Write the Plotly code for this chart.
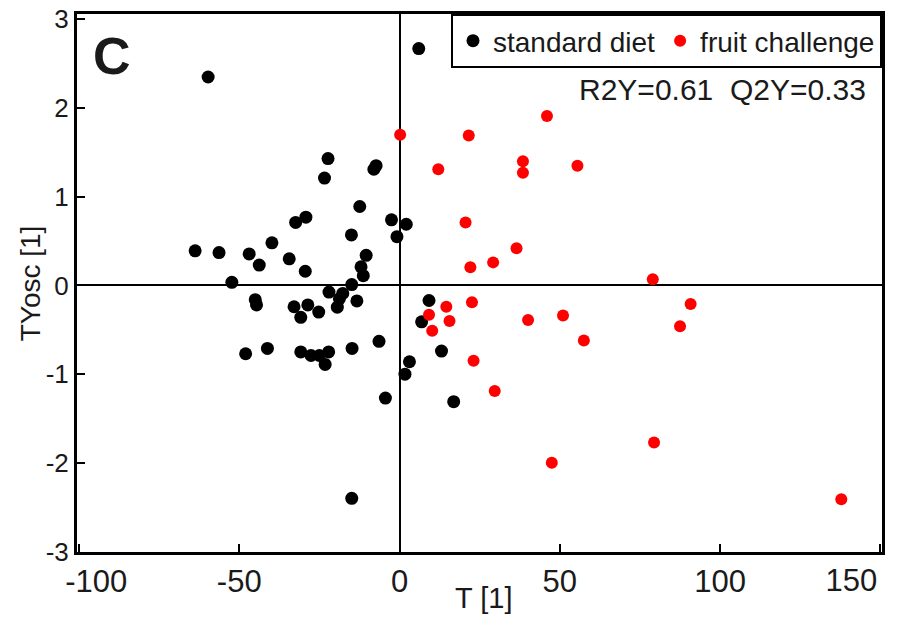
import plotly.graph_objects as go

# ---- data ----
std_t = [6.0, -59.7, -22.3, -23.4, -8.0, -7.3, -12.4, -29.2, -32.4, -15.0, -2.5, 2.1, -0.8,
         -63.75, -56.3, -46.9, -43.75, -39.8, -34.4, -29.4, -10.4, -12.0, -11.3, -52.3, -14.9,
         -22.0, -17.7, -18.75, -19.4, -13.3, -45.0, -44.6, -32.9, -28.6, -30.8, -25.2,
         -6.4, -14.8, -48.0, -41.2, -30.8, -27.6, -25.0, -22.1, -23.2, -4.4, -14.9,
         3.1, 1.7, 9.2, 6.9, 13.1, 16.9]
std_tyosc = [2.67, 2.35, 1.43, 1.21, 1.31, 1.35, 0.89, 0.77, 0.71, 0.57, 0.74, 0.69, 0.55,
             0.39, 0.37, 0.355, 0.23, 0.48, 0.30, 0.16, 0.34, 0.21, 0.11, 0.035, 0.01,
             -0.075, -0.09, -0.15, -0.245, -0.175, -0.16, -0.22, -0.24, -0.22, -0.36, -0.30,
             -0.63, -0.71, -0.77, -0.71, -0.75, -0.79, -0.79, -0.75, -0.89, -1.27, -2.40,
             -0.86, -1.0, -0.17, -0.41, -0.74, -1.31]

fruit_t = [0.2, 21.6, 46.0, 12.1, 38.5, 38.5, 55.5, 20.6, 22.1, 29.2, 36.5, 79.0,
           14.6, 9.2, 15.6, 10.2, 22.6, 40.1, 51.0, 57.5, 90.8, 87.5, 23.1, 29.7,
           79.4, 47.5, 137.8]
fruit_tyosc = [1.70, 1.69, 1.91, 1.31, 1.40, 1.27, 1.35, 0.71, 0.205, 0.26, 0.42, 0.07,
               -0.24, -0.33, -0.40, -0.51, -0.19, -0.39, -0.34, -0.62, -0.21, -0.46, -0.85, -1.19,
               -1.77, -2.0, -2.41]

x_ticks = [-100, -50, 0, 50, 100]
x_tick_labels = ["\u2007\u2007-100", "-50", "0", "50", "100"]
x_edge_tick = [150]
x_edge_label = ["150"]
y_ticks = [-3, -2, -1, 0, 1, 2, 3]
y_tick_labels = ["-3", "-2", "-1", "0", "1", "2", "3"]
series_names = ["standard diet", "fruit challenge"]
stats_text = "R2Y=0.61  Q2Y=0.33"
panel_label = "C"

X_RANGE = [-100.6, 150.5]
FONT = "Liberation Sans, Arial, sans-serif"
TXT = "#1a1a1a"

fig = go.Figure()
fig.add_trace(go.Scatter(x=std_t, y=std_tyosc, mode="markers", name=series_names[0],
                         marker=dict(color="black", size=13, line=dict(width=0))))
fig.add_trace(go.Scatter(x=fruit_t, y=fruit_tyosc, mode="markers", name=series_names[1],
                         marker=dict(color="#ff0000", size=12, line=dict(width=0))))
# empty helper trace so the overlay axis carrying the right-edge tick label is drawn
fig.add_trace(go.Scatter(x=[], y=[], xaxis="x2", yaxis="y", mode="markers",
                         showlegend=False, hoverinfo="skip"))

fig.update_layout(
    width=897, height=620,
    margin=dict(l=77, r=15, t=14, b=68, autoexpand=False),
    paper_bgcolor="white", plot_bgcolor="white",
    font=dict(family=FONT, color=TXT),
    showlegend=True,
    legend=dict(orientation="h", x=1, xanchor="right", y=1.0, yanchor="top",
                bgcolor="white", bordercolor="black", borderwidth=2,
                font=dict(size=28, family=FONT, color=TXT),
                itemwidth=30, tracegroupgap=0),
    xaxis=dict(range=X_RANGE, tickvals=x_ticks + x_edge_tick, ticktext=x_tick_labels + [""],
               ticks="inside", ticklen=8, ticklabeloverflow="allow", automargin=False,
               tickwidth=2, tickcolor="black", showgrid=False,
               zeroline=True, zerolinecolor="black", zerolinewidth=2,
               showline=True, linecolor="black", linewidth=3, mirror=True,
               tickfont=dict(size=31, family=FONT, color=TXT)),
    xaxis2=dict(range=X_RANGE, overlaying="x", anchor="y", side="bottom",
                tickvals=x_edge_tick, ticktext=x_edge_label, ticklabelshift=-29,
                ticklabelstandoff=7,
                ticks="", showline=False, showgrid=False, zeroline=False,
                automargin=False, ticklabeloverflow="allow",
                tickfont=dict(size=31, family=FONT, color=TXT)),
    yaxis=dict(range=[-3.005, 3.06], tickvals=y_ticks, ticktext=y_tick_labels,
               ticks="inside", ticklen=8, ticklabeloverflow="allow", automargin=False,
               tickwidth=2, tickcolor="black", showgrid=False,
               zeroline=True, zerolinecolor="black", zerolinewidth=2,
               showline=True, linecolor="black", linewidth=3, mirror=True,
               tickfont=dict(size=26, family=FONT, color=TXT)),
    annotations=[
        dict(text=stats_text, xref="paper", yref="paper", x=0.983, y=0.859,
             xanchor="right", yanchor="middle", showarrow=False,
             font=dict(size=30, family=FONT, color=TXT)),
        dict(text="<b>" + panel_label + "</b>", xref="paper", yref="paper", x=0.018, y=0.922,
             xanchor="left", yanchor="middle", showarrow=False,
             font=dict(size=52, family=FONT, color=TXT)),
        dict(text="T [1]", xref="paper", yref="paper", x=0.506, y=-0.085,
             xanchor="center", yanchor="middle", showarrow=False,
             font=dict(size=29, family=FONT, color=TXT)),
        dict(text="TYosc [1]", xref="paper", yref="paper", x=-0.058, y=0.5,
             xanchor="center", yanchor="middle", showarrow=False, textangle=-90,
             font=dict(size=28, family=FONT, color=TXT)),
    ],
)

fig.write_html("out.html")
